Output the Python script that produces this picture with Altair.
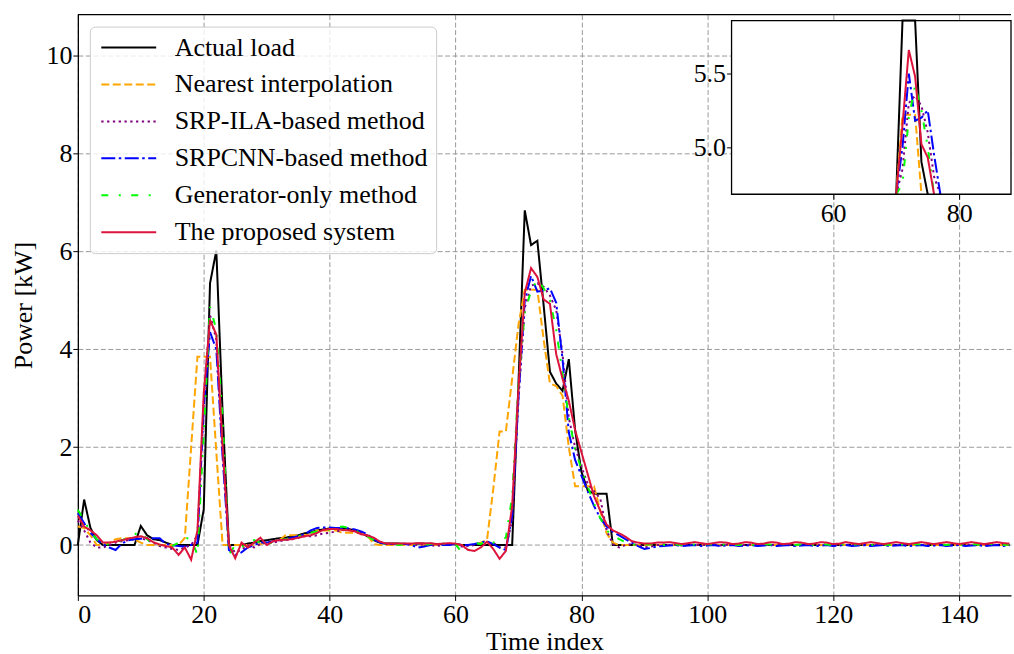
import altair as alt
import pandas as pd

time_index = list(range(149))

actual_load = [
    0.00, 0.93, 0.35, 0.10, 0.00, 0.00, 0.00, 0.00, 0.00, 0.00,
    0.39, 0.20, 0.12, 0.10, 0.05, 0.00, 0.00, 0.00, 0.00, 0.00,
    0.73, 5.35, 6.02, 2.70, 0.00, 0.00, 0.00, 0.03, 0.05, 0.08,
    0.10, 0.12, 0.14, 0.15, 0.18, 0.20, 0.24, 0.26, 0.30, 0.32,
    0.34, 0.35, 0.35, 0.33, 0.30, 0.25, 0.18, 0.10, 0.05, 0.03,
    0.03, 0.03, 0.02, 0.02, 0.03, 0.03, 0.02, 0.02, 0.02, 0.02,
    0.02, 0.00, 0.00, 0.00, 0.00, 0.00, 0.00, 0.00, 0.00, 0.00,
    3.30, 6.84, 6.13, 6.22, 4.90, 3.54, 3.30, 3.15, 3.80, 2.35,
    1.50, 1.12, 1.05, 1.05, 1.05, 0.00, 0.00, 0.00, 0.00, 0.00,
    0.00, 0.00, 0.00, 0.00, 0.00, 0.00, 0.00, 0.00, 0.00, 0.00,
    0.00, 0.00, 0.00, 0.00, 0.00, 0.00, 0.00, 0.00, 0.00, 0.00,
    0.00, 0.00, 0.00, 0.00, 0.00, 0.00, 0.00, 0.00, 0.00, 0.00,
    0.00, 0.00, 0.00, 0.00, 0.00, 0.00, 0.00, 0.00, 0.00, 0.00,
    0.00, 0.00, 0.00, 0.00, 0.00, 0.00, 0.00, 0.00, 0.00, 0.00,
    0.00, 0.00, 0.00, 0.00, 0.00, 0.00, 0.00, 0.00, 0.00,
]

nearest_interpolation = [
    0.38, 0.35, 0.20, 0.00, 0.00, 0.05, 0.12, 0.14, 0.14, 0.12,
    0.05, 0.00, 0.00, 0.00, 0.00, 0.00, 0.00, 0.15, 2.00, 3.85,
    3.85, 3.85, 1.90, 0.00, 0.00, 0.00, 0.00, 0.00, 0.00, 0.02,
    0.05, 0.08, 0.10, 0.20, 0.20, 0.20, 0.20, 0.22, 0.30, 0.30,
    0.30, 0.30, 0.25, 0.25, 0.25, 0.25, 0.20, 0.02, 0.00, 0.00,
    0.00, 0.00, 0.00, 0.00, 0.00, 0.00, 0.00, 0.00, 0.00, 0.00,
    0.00, 0.00, 0.00, 0.00, 0.05, 0.10, 1.15, 2.32, 2.32, 3.40,
    4.50, 5.22, 5.22, 5.22, 4.20, 3.30, 3.25, 3.05, 2.00, 1.20,
    1.20, 1.20, 1.20, 0.70, 0.24, 0.05, 0.00, 0.00, 0.00, 0.00,
    0.00, 0.00, 0.00, 0.00, 0.00, 0.00, 0.00, 0.00, 0.00, 0.00,
    0.00, 0.00, 0.00, 0.00, 0.00, 0.00, 0.00, 0.00, 0.00, 0.00,
    0.00, 0.00, 0.00, 0.00, 0.00, 0.00, 0.00, 0.00, 0.00, 0.00,
    0.00, 0.00, 0.00, 0.00, 0.00, 0.00, 0.00, 0.00, 0.00, 0.00,
    0.00, 0.00, 0.00, 0.00, 0.00, 0.00, 0.00, 0.00, 0.00, 0.00,
    0.00, 0.00, 0.00, 0.00, 0.00, 0.00, 0.00, 0.00, 0.00,
]

srp_ila = [
    0.50, 0.30, 0.05, -0.05, -0.05, 0.00, 0.05, 0.08, 0.10, 0.12,
    0.14, 0.10, 0.05, -0.02, -0.05, -0.08, -0.10, -0.05, 0.00, 0.20,
    2.90, 4.70, 4.20, 1.90, 0.00, -0.15, -0.10, 0.00, -0.05, 0.02,
    0.05, 0.05, 0.08, 0.10, 0.12, 0.15, 0.18, 0.18, 0.20, 0.24,
    0.25, 0.28, 0.30, 0.32, 0.30, 0.25, 0.20, 0.12, 0.05, 0.02,
    0.02, 0.02, 0.03, 0.02, 0.00, 0.02, 0.00, -0.02, 0.00, 0.02,
    0.00, -0.03, -0.02, 0.00, 0.03, 0.00, 0.05, -0.05, -0.05, 0.50,
    3.00, 4.85, 5.30, 5.35, 5.28, 5.10, 4.80, 3.90, 2.60, 2.00,
    1.60, 1.25, 1.10, 0.95, 0.30, 0.02, -0.05, 0.00, 0.02, 0.00,
    -0.05, -0.03, 0.00, 0.01, 0.00, 0.01, -0.01, 0.01, 0.00, 0.01,
    0.00, 0.01, -0.01, 0.01, 0.00, 0.01, 0.00, 0.01, -0.01, 0.01,
    0.00, 0.01, 0.00, 0.01, -0.01, 0.01, 0.00, 0.01, 0.00, 0.01,
    -0.01, 0.01, 0.00, 0.01, 0.00, 0.01, -0.01, 0.01, 0.00, 0.01,
    0.00, 0.01, -0.01, 0.01, 0.00, 0.01, 0.00, 0.01, -0.01, 0.01,
    0.00, 0.01, 0.00, 0.01, -0.01, 0.01, 0.00, 0.01, 0.00,
]

srpcnn = [
    0.65, 0.45, 0.25, 0.12, 0.02, -0.05, -0.10, 0.03, 0.10, 0.12,
    0.13, 0.14, 0.14, 0.14, 0.02, 0.00, -0.02, -0.03, 0.00, 0.05,
    2.80, 4.35, 4.00, 1.80, -0.10, -0.20, -0.15, -0.05, 0.00, 0.05,
    0.05, 0.08, 0.10, 0.12, 0.15, 0.18, 0.22, 0.30, 0.35, 0.36,
    0.36, 0.35, 0.35, 0.34, 0.32, 0.28, 0.22, 0.12, 0.05, 0.02,
    0.02, 0.02, 0.02, 0.00, -0.05, -0.03, 0.00, 0.02, 0.00, 0.00,
    0.02, 0.00, 0.00, 0.02, 0.05, 0.08, 0.02, -0.05, -0.10, 0.60,
    3.00, 5.00, 5.50, 5.18, 5.20, 5.25, 4.95, 3.80, 2.30, 1.74,
    1.42, 1.10, 0.80, 0.55, 0.38, 0.27, 0.20, 0.12, 0.05, -0.02,
    -0.08, -0.06, -0.03, -0.02, -0.01, 0.00, -0.02, -0.01, 0.00, -0.02,
    -0.01, 0.00, -0.02, -0.01, 0.00, -0.02, -0.01, 0.00, -0.02, -0.01,
    0.00, -0.02, -0.01, 0.00, -0.02, -0.01, 0.00, -0.02, -0.01, 0.00,
    -0.02, -0.01, 0.00, -0.02, -0.01, 0.00, -0.02, -0.01, 0.00, -0.02,
    -0.01, 0.00, -0.02, -0.01, 0.00, -0.02, -0.01, 0.00, -0.02, -0.01,
    0.00, -0.02, -0.01, 0.00, -0.02, -0.01, 0.00, -0.02, -0.01,
]

generator_only = [
    0.72, 0.50, 0.28, 0.12, 0.00, 0.02, 0.05, 0.10, 0.15, 0.22,
    0.27, 0.12, 0.02, 0.00, 0.00, -0.02, 0.05, 0.15, 0.12, -0.20,
    2.30, 4.87, 4.40, 2.60, -0.20, 0.00, -0.05, 0.05, 0.10, 0.05,
    0.02, 0.05, 0.10, 0.12, 0.15, 0.18, 0.22, 0.25, 0.28, 0.30,
    0.32, 0.35, 0.38, 0.35, 0.30, 0.25, 0.18, 0.10, 0.05, 0.02,
    0.02, 0.00, 0.02, 0.03, 0.02, 0.00, 0.02, 0.05, 0.03, 0.02,
    0.02, -0.15, -0.12, 0.05, 0.02, 0.10, 0.05, 0.10, 0.15, 1.00,
    3.30, 4.75, 5.20, 5.42, 5.25, 5.00, 4.40, 3.50, 2.60, 1.95,
    1.55, 1.20, 0.85, 0.55, 0.30, 0.20, 0.12, 0.06, 0.00, 0.02,
    0.00, 0.02, 0.01, 0.00, 0.02, 0.01, 0.00, 0.02, 0.01, 0.00,
    0.02, 0.01, 0.00, 0.02, 0.01, 0.00, 0.02, 0.01, 0.00, 0.02,
    0.01, 0.00, 0.02, 0.01, 0.00, 0.02, 0.01, 0.00, 0.02, 0.01,
    0.00, 0.02, 0.01, 0.00, 0.02, 0.01, 0.00, 0.02, 0.01, 0.00,
    0.02, 0.01, 0.00, 0.02, 0.01, 0.00, 0.02, 0.01, 0.00, 0.02,
    0.01, 0.00, 0.02, 0.01, 0.00, 0.02, 0.01, 0.00, 0.01,
]

proposed_system = [
    0.60, 0.38, 0.30, 0.20, 0.05, 0.05, 0.07, 0.10, 0.13, 0.16,
    0.18, 0.14, 0.06, 0.01, -0.02, -0.05, -0.20, -0.05, -0.30, 0.30,
    3.10, 4.60, 4.30, 2.00, 0.00, -0.27, 0.05, -0.05, 0.05, 0.15,
    0.00, 0.08, 0.10, 0.11, 0.12, 0.15, 0.18, 0.20, 0.25, 0.31,
    0.33, 0.33, 0.31, 0.30, 0.28, 0.22, 0.20, 0.15, 0.07, 0.03,
    0.03, 0.03, 0.03, 0.03, 0.04, 0.03, 0.04, 0.02, 0.03, 0.04,
    0.03, 0.00, -0.10, -0.12, -0.05, 0.07, -0.08, -0.28, -0.12, 0.80,
    3.20, 5.15, 5.66, 5.48, 5.02, 4.93, 3.90, 3.40, 2.95, 2.35,
    1.90, 1.45, 1.00, 0.70, 0.42, 0.30, 0.24, 0.17, 0.08, 0.05,
    0.03, 0.03, 0.05, 0.05, 0.06, 0.04, 0.02, 0.04, 0.06, 0.04,
    0.02, 0.04, 0.06, 0.05, 0.02, 0.03, 0.06, 0.05, 0.02, 0.03,
    0.06, 0.05, 0.02, 0.03, 0.06, 0.05, 0.02, 0.03, 0.06, 0.05,
    0.02, 0.03, 0.06, 0.04, 0.02, 0.04, 0.06, 0.04, 0.02, 0.04,
    0.06, 0.04, 0.02, 0.04, 0.06, 0.04, 0.02, 0.04, 0.06, 0.04,
    0.02, 0.04, 0.06, 0.04, 0.02, 0.04, 0.06, 0.04, 0.03,
]

series_names = [
    "Actual load",
    "Nearest interpolation",
    "SRP-ILA-based method",
    "SRPCNN-based method",
    "Generator-only method",
    "The proposed system",
]
series_values = [actual_load, nearest_interpolation, srp_ila, srpcnn,
                 generator_only, proposed_system]
line_colors = ["#000000", "#FFA500", "#800080", "#0000FF", "#00FF00", "#DC143C"]
line_dashes = [[1, 0], [8, 3.5], [2.3, 3.5], [14, 3.5, 2.5, 3.5], [7, 10.5, 2, 10.5], [1, 0]]

x_ticks = [0, 20, 40, 60, 80, 100, 120, 140]
y_ticks = [0, 2, 4, 6, 8, 10]
inset_x_ticks = [60, 80]
inset_y_ticks = [5.0, 5.5]

X_DOMAIN = [0, 148.25]
Y_DOMAIN = [-1.03, 10.84]
INSET_X_DOMAIN = [43.9, 88.2]
INSET_Y_DOMAIN = [4.68, 5.86]

rows = []
for name, vals in zip(series_names, series_values):
    assert len(vals) == len(time_index), name
    for t, v in zip(time_index, vals):
        rows.append({"t": t, "power": v, "series": name})
df = pd.DataFrame(rows)

FONT = "Liberation Serif"
MAIN_W, MAIN_H = 935, 582
# inset box inside the plot area (pixels)
IN_X0, IN_X1, IN_Y0, IN_Y1 = 655, 935, 6, 180

x_main = alt.X("t:Q", scale=alt.Scale(domain=X_DOMAIN, nice=False, zero=False),
               axis=alt.Axis(values=x_ticks, title="Time index", grid=True,
                             labelPadding=1, titlePadding=1))
y_main = alt.Y("power:Q", scale=alt.Scale(domain=Y_DOMAIN, nice=False, zero=False),
               axis=alt.Axis(values=y_ticks, title="Power [kW]", grid=True,
                             labelPadding=1, titlePadding=9))

legend = alt.Legend(title=None, orient="none", legendX=12, legendY=12, direction="vertical")
color_enc = alt.Color("series:N", scale=alt.Scale(domain=series_names, range=line_colors), legend=legend)
dash_enc = alt.StrokeDash("series:N", scale=alt.Scale(domain=series_names, range=line_dashes), legend=legend)

main_layers = []
for name in series_names:
    main_layers.append(
        alt.Chart(df).transform_filter(alt.datum.series == name)
        .mark_line(strokeWidth=2)
        .encode(x=x_main, y=y_main, color=color_enc, strokeDash=dash_enc)
    )

one = pd.DataFrame({"k": [0]})
top_border = alt.Chart(one).mark_rule(color="black", strokeWidth=1.3).encode(
    x=alt.value(0), x2=alt.value(MAIN_W), y=alt.value(0))

main = alt.layer(*main_layers, top_border)

# ---- inset (zoom on the second peak) ----
x_in = alt.X("t:Q", scale=alt.Scale(domain=INSET_X_DOMAIN, range=[IN_X0, IN_X1], nice=False, zero=False, clamp=True),
             axis=alt.Axis(values=inset_x_ticks, title=None, grid=False, domain=False, orient="bottom",
                           offset=-(MAIN_H - IN_Y1), labelPadding=1))
y_in = alt.Y("power:Q", scale=alt.Scale(domain=INSET_Y_DOMAIN, range=[IN_Y1, IN_Y0], nice=False, zero=False, clamp=True),
             axis=alt.Axis(values=inset_y_ticks, format=".1f", title=None, grid=False, domain=False, orient="left",
                           offset=-IN_X0, labelPadding=1))


def inset_window(vals):
    """indices of the stretch that is visible inside the inset, plus one neighbour each side"""
    inside = [i for i in time_index
              if INSET_X_DOMAIN[0] <= i <= INSET_X_DOMAIN[1] and vals[i] >= INSET_Y_DOMAIN[0]]
    return max(min(inside) - 1, 0), min(max(inside) + 1, len(vals) - 1)


inset_layers = []
for name, vals, c, d in zip(series_names, series_values, line_colors, line_dashes):
    lo, hi = inset_window(vals)
    inset_layers.append(
        alt.Chart(df).transform_filter(
            (alt.datum.series == name) & (alt.datum.t >= lo) & (alt.datum.t <= hi))
        .mark_line(strokeWidth=2, color=c, strokeDash=d)
        .encode(x=x_in, y=y_in)
    )
inset_lines = alt.layer(*inset_layers)

inset_bg = alt.Chart(one).mark_rect(fill="white", strokeOpacity=0).encode(
    x=alt.value(IN_X0), x2=alt.value(IN_X1), y=alt.value(IN_Y0), y2=alt.value(IN_Y1))
inset_frame = alt.Chart(one).mark_rect(fill="transparent", stroke="black", strokeWidth=1.3).encode(
    x=alt.value(IN_X0), x2=alt.value(IN_X1), y=alt.value(IN_Y0), y2=alt.value(IN_Y1))

chart = alt.layer(main, inset_bg, inset_lines, inset_frame).resolve_scale(
    x="independent", y="independent"
).properties(
    width=MAIN_W, height=MAIN_H,
    view=alt.ViewBackground(stroke="transparent", fill="white"),
    padding={"left": 11, "top": 13, "right": 0, "bottom": 0},
).configure(font=FONT).configure_axis(
    labelFont=FONT, titleFont=FONT, labelFontSize=26, titleFontSize=26,
    labelColor="black", titleColor="black", titleFontWeight="normal",
    tickColor="black", tickSize=5,
    domainColor="black", domainWidth=1.3,
    gridColor="#9a9a9a", gridDash=[5, 2.5], gridWidth=1,
).configure_legend(
    labelFont=FONT, labelFontSize=26, labelColor="black", labelLimit=500,
    fillColor="rgba(255,255,255,0.8)", strokeColor="#cccccc", cornerRadius=5,
    padding=8, rowPadding=11,
    symbolType="M-2.75,0H2.75", symbolSize=400, symbolStrokeWidth=2,
    symbolOffset=18, labelOffset=33,
)

chart.save("out.html", embed_options={"renderer": "svg", "actions": False})
